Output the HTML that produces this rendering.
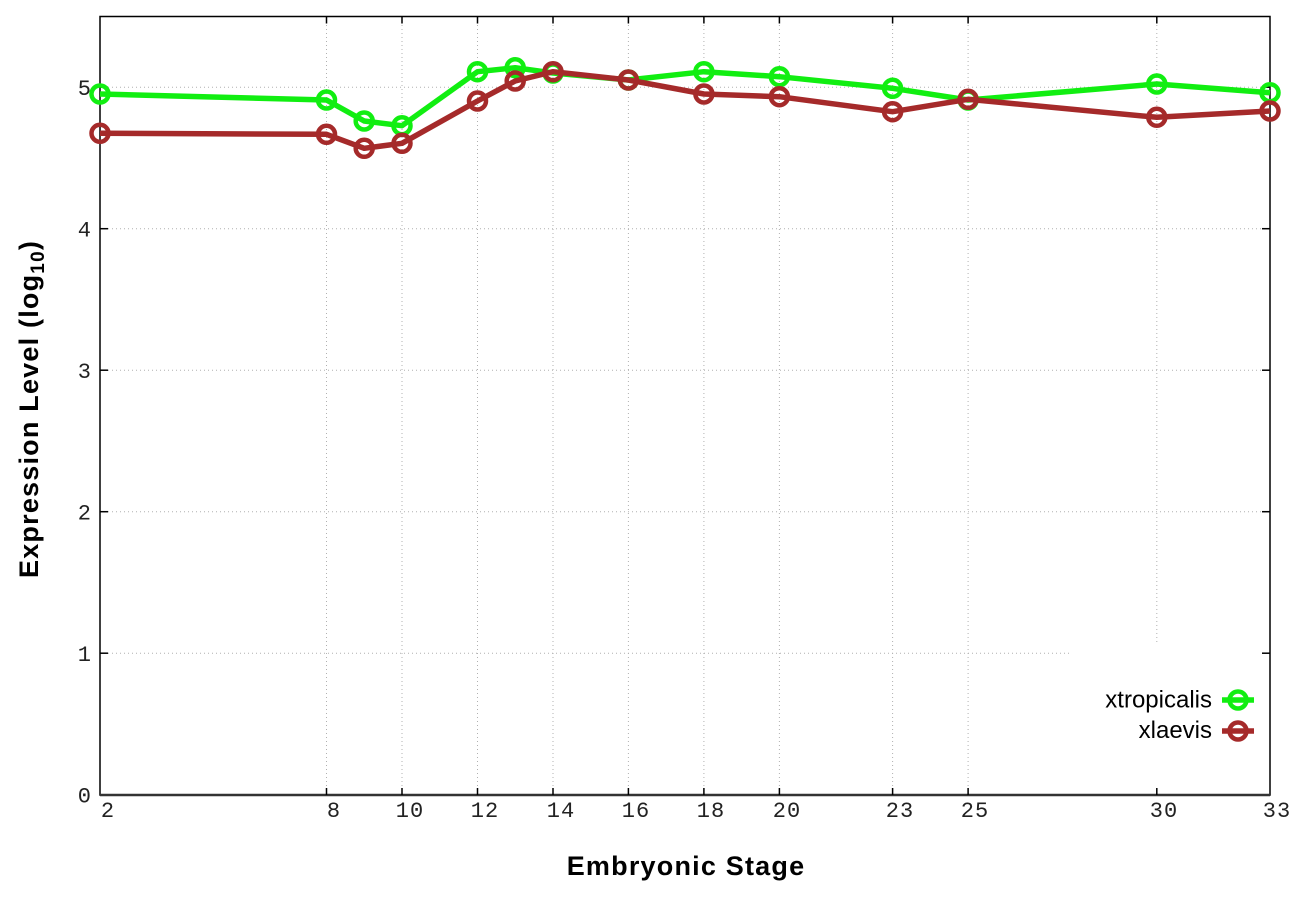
<!DOCTYPE html>
<html>
<head>
<meta charset="utf-8">
<style>
  html,body{margin:0;padding:0;background:#fff;}
  svg{display:block;}
</style>
</head>
<body>
<svg width="1296" height="907" viewBox="0 0 1296 907" xmlns="http://www.w3.org/2000/svg">
  <rect x="0" y="0" width="1296" height="907" fill="#fff"/>

  <!-- grid -->
  <g stroke="#b0b0b0" stroke-width="1" stroke-dasharray="1,3" fill="none">
    <line x1="100" y1="87.2" x2="1270" y2="87.2"/>
    <line x1="100" y1="228.7" x2="1270" y2="228.7"/>
    <line x1="100" y1="370.2" x2="1270" y2="370.2"/>
    <line x1="100" y1="511.7" x2="1270" y2="511.7"/>
    <line x1="100" y1="653.2" x2="1071" y2="653.2"/>
    <line x1="326.5" y1="17" x2="326.5" y2="795"/>
    <line x1="402" y1="17" x2="402" y2="795"/>
    <line x1="477.5" y1="17" x2="477.5" y2="795"/>
    <line x1="553" y1="17" x2="553" y2="795"/>
    <line x1="628.4" y1="17" x2="628.4" y2="795"/>
    <line x1="703.9" y1="17" x2="703.9" y2="795"/>
    <line x1="779.4" y1="17" x2="779.4" y2="795"/>
    <line x1="892.6" y1="17" x2="892.6" y2="795"/>
    <line x1="968.1" y1="17" x2="968.1" y2="795"/>
    <line x1="1156.8" y1="17" x2="1156.8" y2="642"/>
  </g>

  <!-- border -->
  <rect x="100" y="16.5" width="1170" height="778.5" fill="none" stroke="#000" stroke-width="1.5"/>
  <line x1="100" y1="795" x2="1270" y2="795" stroke="#333" stroke-width="2.5"/>

  <!-- ticks -->
  <g stroke="#000" stroke-width="1.5">
    <line x1="100" y1="653.2" x2="108" y2="653.2"/><line x1="1270" y1="653.2" x2="1262" y2="653.2"/>
    <line x1="100" y1="511.7" x2="108" y2="511.7"/><line x1="1270" y1="511.7" x2="1262" y2="511.7"/>
    <line x1="100" y1="370.2" x2="108" y2="370.2"/><line x1="1270" y1="370.2" x2="1262" y2="370.2"/>
    <line x1="100" y1="228.7" x2="108" y2="228.7"/><line x1="1270" y1="228.7" x2="1262" y2="228.7"/>
    <line x1="100" y1="87.2" x2="108" y2="87.2"/><line x1="1270" y1="87.2" x2="1262" y2="87.2"/>
    <line x1="326.5" y1="795" x2="326.5" y2="788"/><line x1="326.5" y1="16.5" x2="326.5" y2="23.5"/>
    <line x1="402" y1="795" x2="402" y2="788"/><line x1="402" y1="16.5" x2="402" y2="23.5"/>
    <line x1="477.5" y1="795" x2="477.5" y2="788"/><line x1="477.5" y1="16.5" x2="477.5" y2="23.5"/>
    <line x1="553" y1="795" x2="553" y2="788"/><line x1="553" y1="16.5" x2="553" y2="23.5"/>
    <line x1="628.4" y1="795" x2="628.4" y2="788"/><line x1="628.4" y1="16.5" x2="628.4" y2="23.5"/>
    <line x1="703.9" y1="795" x2="703.9" y2="788"/><line x1="703.9" y1="16.5" x2="703.9" y2="23.5"/>
    <line x1="779.4" y1="795" x2="779.4" y2="788"/><line x1="779.4" y1="16.5" x2="779.4" y2="23.5"/>
    <line x1="892.6" y1="795" x2="892.6" y2="788"/><line x1="892.6" y1="16.5" x2="892.6" y2="23.5"/>
    <line x1="968.1" y1="795" x2="968.1" y2="788"/><line x1="968.1" y1="16.5" x2="968.1" y2="23.5"/>
    <line x1="1156.8" y1="795" x2="1156.8" y2="788"/><line x1="1156.8" y1="16.5" x2="1156.8" y2="23.5"/>
  </g>

  <!-- y tick labels -->
  <g font-family="'Liberation Mono', monospace" font-size="22" fill="#222" text-anchor="end">
    <text x="91" y="802.5">0</text>
    <text x="91" y="661">1</text>
    <text x="91" y="519.5">2</text>
    <text x="91" y="378">3</text>
    <text x="91" y="236.5">4</text>
    <text x="91" y="95">5</text>
  </g>

  <!-- x tick labels -->
  <g font-family="'Liberation Mono', monospace" font-size="22" fill="#222" text-anchor="middle" letter-spacing="1">
    <text x="108" y="817">2</text>
    <text x="334" y="817">8</text>
    <text x="410" y="817">10</text>
    <text x="485" y="817">12</text>
    <text x="561" y="817">14</text>
    <text x="636" y="817">16</text>
    <text x="711" y="817">18</text>
    <text x="787" y="817">20</text>
    <text x="900" y="817">23</text>
    <text x="975" y="817">25</text>
    <text x="1164" y="817">30</text>
    <text x="1277" y="817">33</text>
  </g>

  <!-- axis titles -->
  <text x="686" y="875" font-family="'Liberation Sans', sans-serif" font-weight="bold" font-size="27" letter-spacing="1.2" text-anchor="middle" fill="#000">Embryonic Stage</text>
  <text transform="translate(38,578) rotate(-90)" x="0" y="0" font-family="'Liberation Sans', sans-serif" font-weight="bold" font-size="27" letter-spacing="1.2" fill="#000">Expression Level (log<tspan font-size="19" dy="6">10</tspan><tspan dy="-6">)</tspan></text>

  <!-- xtropicalis -->
  <g stroke="#11ee11" fill="none" stroke-linejoin="round">
    <polyline stroke-width="5.5" points="100,94 326.5,100 364.2,121 402,125.7 477.5,71.7 515.2,67.7 553,73 628.4,80 703.9,71.7 779.4,76.7 892.6,88.3 968.1,100 1156.8,84 1270,92.7"/>
    <g stroke-width="4.5">
      <circle cx="100" cy="94" r="8.5"/>
      <circle cx="326.5" cy="100" r="8.5"/>
      <circle cx="364.2" cy="121" r="8.5"/>
      <circle cx="402" cy="125.7" r="8.5"/>
      <circle cx="477.5" cy="71.7" r="8.5"/>
      <circle cx="515.2" cy="67.7" r="8.5"/>
      <circle cx="553" cy="73" r="8.5"/>
      <circle cx="628.4" cy="80" r="8.5"/>
      <circle cx="703.9" cy="71.7" r="8.5"/>
      <circle cx="779.4" cy="76.7" r="8.5"/>
      <circle cx="892.6" cy="88.3" r="8.5"/>
      <circle cx="968.1" cy="100" r="8.5"/>
      <circle cx="1156.8" cy="84" r="8.5"/>
      <circle cx="1270" cy="92.7" r="8.5"/>
    </g>
  </g>

  <!-- xlaevis -->
  <g stroke="#a52a2a" fill="none" stroke-linejoin="round">
    <polyline stroke-width="5.5" points="100,133.3 326.5,134.3 364.2,148.3 402,143.3 477.5,101 515.2,81 553,71.7 628.4,80 703.9,94 779.4,96.7 892.6,111.7 968.1,99.3 1156.8,117.3 1270,111"/>
    <g stroke-width="4.5">
      <circle cx="100" cy="133.3" r="8.5"/>
      <circle cx="326.5" cy="134.3" r="8.5"/>
      <circle cx="364.2" cy="148.3" r="8.5"/>
      <circle cx="402" cy="143.3" r="8.5"/>
      <circle cx="477.5" cy="101" r="8.5"/>
      <circle cx="515.2" cy="81" r="8.5"/>
      <circle cx="553" cy="71.7" r="8.5"/>
      <circle cx="628.4" cy="80" r="8.5"/>
      <circle cx="703.9" cy="94" r="8.5"/>
      <circle cx="779.4" cy="96.7" r="8.5"/>
      <circle cx="892.6" cy="111.7" r="8.5"/>
      <circle cx="968.1" cy="99.3" r="8.5"/>
      <circle cx="1156.8" cy="117.3" r="8.5"/>
      <circle cx="1270" cy="111" r="8.5"/>
    </g>
  </g>

  <!-- legend -->
  <g font-family="'Liberation Sans', sans-serif" font-size="24" fill="#000" text-anchor="end">
    <text x="1212" y="707.5">xtropicalis</text>
    <text x="1212" y="738">xlaevis</text>
  </g>
  <g fill="none">
    <line x1="1222" y1="700" x2="1254" y2="700" stroke="#11ee11" stroke-width="5.5"/>
    <circle cx="1238" cy="700" r="8.5" stroke="#11ee11" stroke-width="4.5"/>
    <line x1="1222" y1="731" x2="1254" y2="731" stroke="#a52a2a" stroke-width="5.5"/>
    <circle cx="1238" cy="731" r="8.5" stroke="#a52a2a" stroke-width="4.5"/>
  </g>
</svg>
</body>
</html>
